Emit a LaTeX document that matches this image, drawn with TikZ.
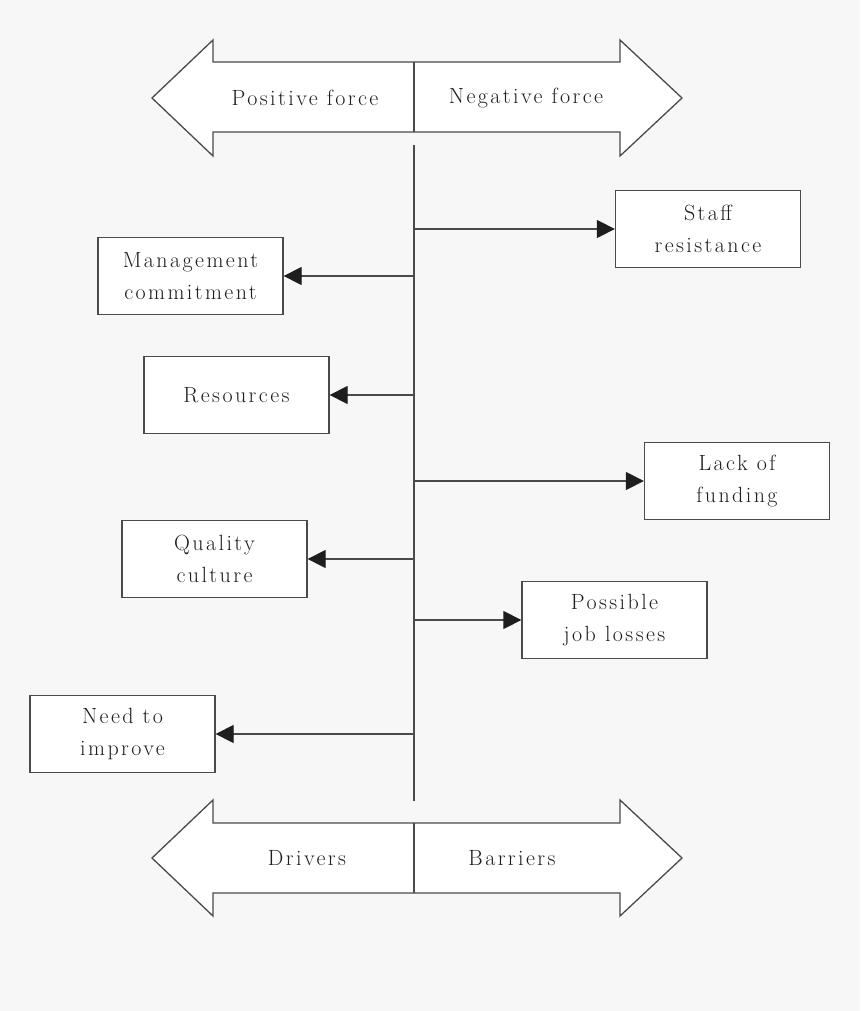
\documentclass[tikz,border=0pt]{standalone}
\usepackage{fontspec}
\setmainfont{Latin Modern Roman}[LetterSpace=11]
\usetikzlibrary{arrows.meta}
\definecolor{bg}{HTML}{F7F7F7}
\definecolor{ln}{HTML}{4A4A4A}
\definecolor{hd}{HTML}{1E1E1E}
\newcommand{\lblfont}{\fontsize{22}{32}\selectfont}
\begin{document}
\begin{tikzpicture}[x=1pt,y=-1pt,
  lbl/.style={font=\lblfont, text=hd, inner sep=0pt},
  fbox/.style={draw=ln, line width=1.3pt, fill=white, minimum width=185pt, minimum height=77pt, align=center, inner sep=0pt, font=\lblfont, text=hd},
  conn/.style={draw=ln, line width=1.3pt, -{Triangle[length=18pt,width=18pt,color=hd]}},
  bigarrow/.style={draw=ln, line width=1.3pt, fill=white, line join=miter},
  spine/.style={draw=ln, line width=1.5pt}]
\useasboundingbox (0,0) rectangle (860,1011);
\fill[bg] (0,0) rectangle (860,1011);
% top double arrow
\draw[bigarrow] (152,98) -- (213,40) -- (213,62) -- (620,62) -- (620,40) -- (682,98) -- (620,156) -- (620,132) -- (213,132) -- (213,156) -- cycle;
\coordinate (td1) at (414,62);
\coordinate (td2) at (414,132);
\draw[spine] (td1) -- (td2);
\node[lbl] (pos) at (305,98) {Positive force};
\node[lbl] (neg) at (526,98) {Negative force};
% bottom double arrow
\draw[bigarrow] (152,858) -- (213,800) -- (213,823) -- (620,823) -- (620,800) -- (682,858) -- (620,916) -- (620,893) -- (213,893) -- (213,916) -- cycle;
\coordinate (bd1) at (414,823);
\coordinate (bd2) at (414,893);
\draw[spine] (bd1) -- (bd2);
\node[lbl] (drv) at (307,858) {Drivers};
\node[lbl] (bar) at (512,858) {Barriers};
% spine
\coordinate (sTop) at (414,145);
\coordinate (sBot) at (414,801);
\draw[spine] (sTop) -- (sBot);
% boxes
\node[fbox] (staff) at (708,229) {Staff\\resistance};
\node[fbox] (mgmt) at (190.5,276) {Management\\commitment};
\node[fbox] (res) at (236.5,395) {Resources};
\node[fbox] (lack) at (737,481) {Lack of\\funding};
\node[fbox] (qual) at (214.5,559) {Quality\\culture};
\node[fbox] (job) at (614.5,620) {Possible\\job losses};
\node[fbox] (need) at (122.5,734) {Need to\\improve};
% connectors
\coordinate (c1) at (414,229);
\coordinate (c2) at (414,276);
\coordinate (c3) at (414,395);
\coordinate (c4) at (414,481);
\coordinate (c5) at (414,559);
\coordinate (c6) at (414,620);
\coordinate (c7) at (414,734);
\draw[conn] (c1) -- (staff.west);
\draw[conn] (c2) -- (mgmt.east);
\draw[conn] (c3) -- (res.east);
\draw[conn] (c4) -- (lack.west);
\draw[conn] (c5) -- (qual.east);
\draw[conn] (c6) -- (job.west);
\draw[conn] (c7) -- (need.east);
\end{tikzpicture}
\end{document}
